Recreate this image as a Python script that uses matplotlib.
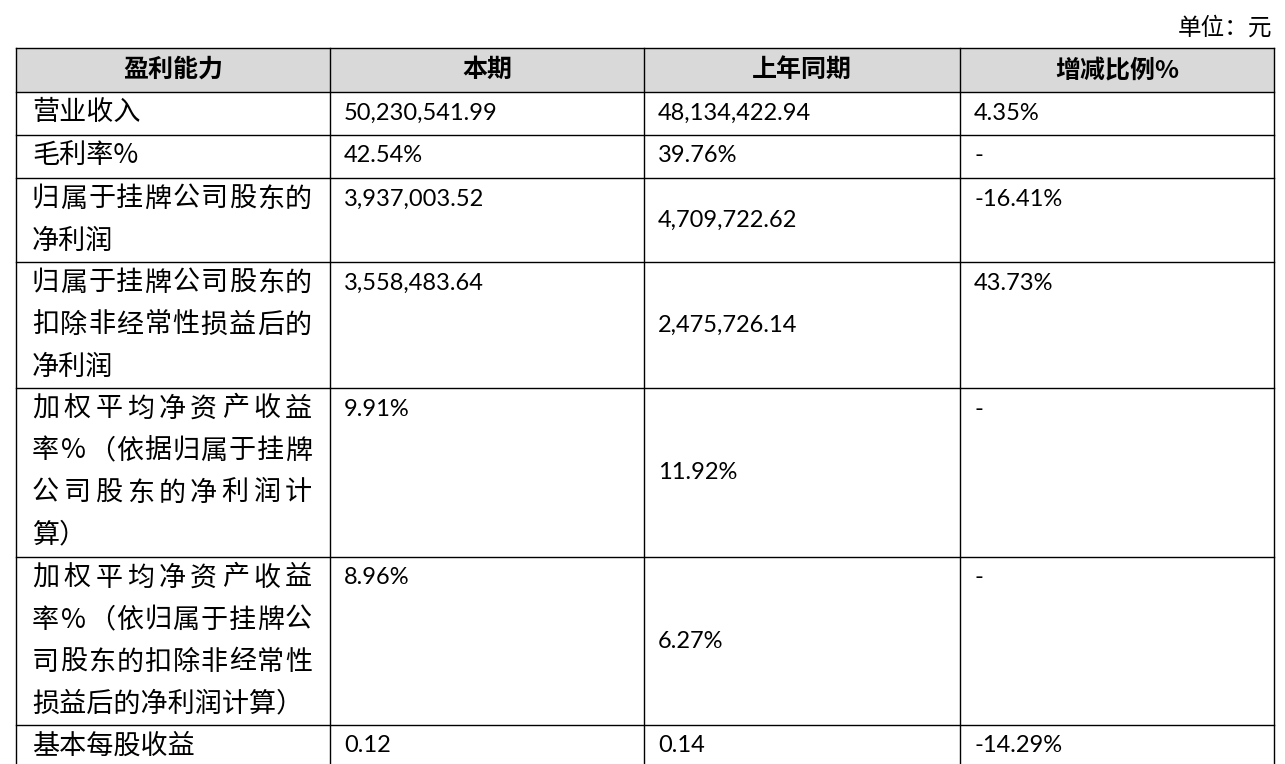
import matplotlib
matplotlib.use("Agg")
import matplotlib.pyplot as plt

headers = ["盈利能力", "本期", "上年同期", "增减比例%"]
categories = [
    ["营业收入"],
    ["毛利率%"],
    ["归属于挂牌公司股东的", "净利润"],
    ["归属于挂牌公司股东的", "扣除非经常性损益后的", "净利润"],
    ["加权平均净资产收益", "率%（依据归属于挂牌", "公司股东的净利润计", "算）"],
    ["加权平均净资产收益", "率%（依归属于挂牌公", "司股东的扣除非经常性", "损益后的净利润计算）"],
    ["基本每股收益"],
]
current = ["50,230,541.99", "42.54%", "3,937,003.52", "3,558,483.64", "9.91%", "8.96%", "0.12"]
previous = ["48,134,422.94", "39.76%", "4,709,722.62", "2,475,726.14", "11.92%", "6.27%", "0.14"]
change = ["4.35%", "-", "-16.41%", "43.73%", "-", "-", "-14.29%"]

W, H = 1285, 764
fig = plt.figure(figsize=(W/100, H/100), dpi=100)
ax = fig.add_axes([0, 0, 1, 1])
ax.set_xlim(0, W); ax.set_ylim(H, 0); ax.axis("off")

cols = [16, 330, 644, 960, 1274]
rows = [48, 92, 135, 178, 262, 388, 557, 725, 790]
line_h = 42
cjk = ["Noto Sans CJK SC", "DejaVu Sans"]
num = ["Lato", "DejaVu Sans"]

ax.add_patch(plt.Rectangle((cols[0], rows[0]), cols[-1]-cols[0], rows[1]-rows[0],
                           facecolor="#d9d9d9", edgecolor="none"))
for x in cols:
    ax.plot([x, x], [rows[0], rows[-1]], color="black", lw=1)
for y in rows[:-1]:
    ax.plot([cols[0], cols[-1]], [y, y], color="black", lw=1)

ax.text(1272, 28, "单位：元", family=cjk, fontsize=17, ha="right", va="center")
for i, h in enumerate(headers):
    ax.text((cols[i]+cols[i+1])/2, (rows[0]+rows[1])/2, h, family=cjk,
            fontsize=18, fontweight="bold", ha="center", va="center")

fs = 19.5
for r in range(len(categories)):
    top = rows[r+1]
    lines = categories[r]
    for k, ln in enumerate(lines):
        y = top + 21 + k*line_h
        if len(lines) > 1 and k < len(lines)-1:
            n = len(ln)
            x0, x1 = 32, 312
            step = (x1 - x0 - 27) / (n - 1)
            for j, ch in enumerate(ln):
                ax.text(x0 + 13.5 + j*step, y, ch, family=cjk, fontsize=fs, ha="center", va="center")
        else:
            ax.text(32, y, ln, family=cjk, fontsize=fs, ha="left", va="center")
    ax.text(cols[1]+14, top+21, current[r], family=num, fontsize=17, ha="left", va="center")
    ymid = top + 21 if len(lines) == 1 else (top + rows[r+2]) / 2
    ax.text(cols[2]+14, ymid, previous[r], family=num, fontsize=17, ha="left", va="center")
    ax.text(cols[3]+14, top+21, change[r], family=num, fontsize=17, ha="left", va="center")

fig.savefig("out.png", dpi=100)
